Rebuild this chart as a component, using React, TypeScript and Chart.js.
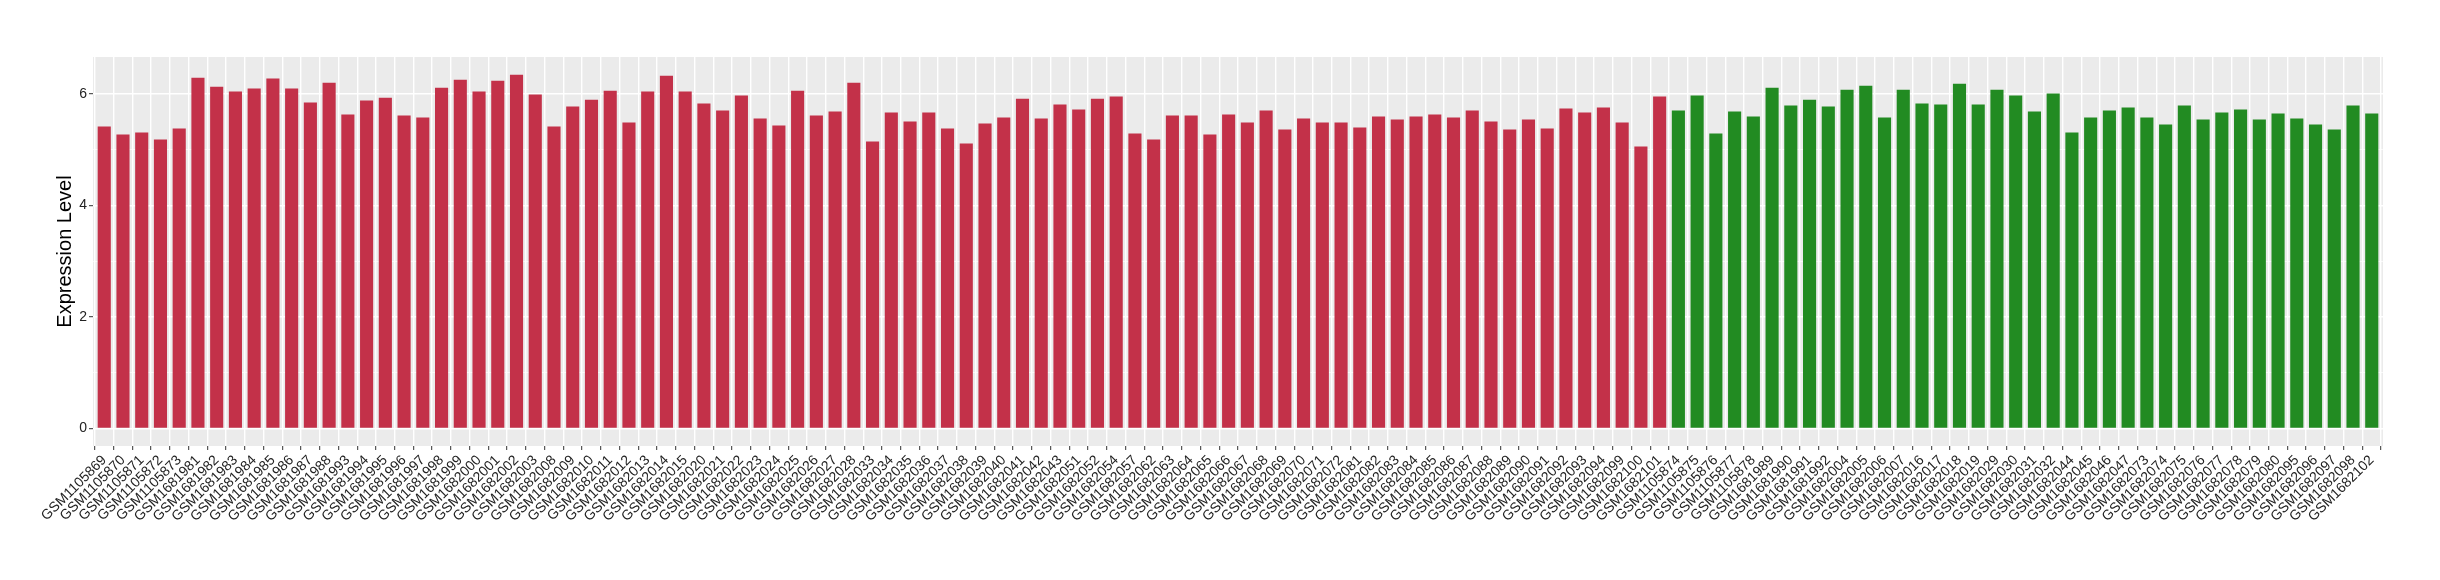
import React, { useEffect, useRef } from "react";
import { Chart, registerables } from "chart.js";
Chart.register(...registerables);

const redSamples = [
  "GSM1105869", "GSM1105870", "GSM1105871", "GSM1105872", "GSM1105873",
  "GSM1681981", "GSM1681982", "GSM1681983", "GSM1681984", "GSM1681985", "GSM1681986", "GSM1681987", "GSM1681988",
  "GSM1681993", "GSM1681994", "GSM1681995", "GSM1681996", "GSM1681997", "GSM1681998", "GSM1681999",
  "GSM1682000", "GSM1682001", "GSM1682002", "GSM1682003",
  "GSM1682008", "GSM1682009", "GSM1682010", "GSM1682011", "GSM1682012", "GSM1682013", "GSM1682014", "GSM1682015",
  "GSM1682020", "GSM1682021", "GSM1682022", "GSM1682023", "GSM1682024", "GSM1682025", "GSM1682026", "GSM1682027", "GSM1682028",
  "GSM1682033", "GSM1682034", "GSM1682035", "GSM1682036", "GSM1682037", "GSM1682038", "GSM1682039", "GSM1682040", "GSM1682041", "GSM1682042", "GSM1682043",
  "GSM1682051", "GSM1682052", "GSM1682054", "GSM1682057",
  "GSM1682062", "GSM1682063", "GSM1682064", "GSM1682065", "GSM1682066", "GSM1682067", "GSM1682068", "GSM1682069", "GSM1682070", "GSM1682071", "GSM1682072",
  "GSM1682081", "GSM1682082", "GSM1682083", "GSM1682084", "GSM1682085", "GSM1682086", "GSM1682087", "GSM1682088", "GSM1682089", "GSM1682090", "GSM1682091", "GSM1682092", "GSM1682093", "GSM1682094",
  "GSM1682099", "GSM1682100", "GSM1682101",
];

const greenSamples = [
  "GSM1105874", "GSM1105875", "GSM1105876", "GSM1105877", "GSM1105878",
  "GSM1681989", "GSM1681990", "GSM1681991", "GSM1681992",
  "GSM1682004", "GSM1682005", "GSM1682006", "GSM1682007",
  "GSM1682016", "GSM1682017", "GSM1682018", "GSM1682019",
  "GSM1682029", "GSM1682030", "GSM1682031", "GSM1682032",
  "GSM1682044", "GSM1682045", "GSM1682046", "GSM1682047",
  "GSM1682073", "GSM1682074", "GSM1682075", "GSM1682076", "GSM1682077", "GSM1682078", "GSM1682079", "GSM1682080",
  "GSM1682095", "GSM1682096", "GSM1682097", "GSM1682098", "GSM1682102",
];

const redValues = [
  5.415, 5.272, 5.307, 5.182, 5.379, 6.292, 6.131, 6.042, 6.096, 6.275,
  6.096, 5.845, 6.203, 5.630, 5.881, 5.934, 5.612, 5.576, 6.113, 6.257,
  6.042, 6.239, 6.346, 5.988, 5.415, 5.773, 5.898, 6.059, 5.486, 6.042,
  6.328, 6.042, 5.827, 5.701, 5.970, 5.558, 5.433, 6.059, 5.612, 5.683,
  6.203, 5.146, 5.665, 5.504, 5.665, 5.379, 5.110, 5.468, 5.576, 5.916,
  5.558, 5.809, 5.719, 5.916, 5.952, 5.289, 5.182, 5.612, 5.612, 5.271,
  5.630, 5.486, 5.701, 5.361, 5.558, 5.486, 5.486, 5.397, 5.594, 5.540,
  5.594, 5.630, 5.576, 5.701, 5.504, 5.361, 5.540, 5.379, 5.737, 5.665,
  5.755, 5.486, 5.056, 5.952,
];

const greenValues = [
  5.701, 5.970, 5.289, 5.683, 5.594, 6.113, 5.791, 5.898, 5.773, 6.077,
  6.149, 5.576, 6.077, 5.827, 5.809, 6.185, 5.809, 6.077, 5.970, 5.683,
  6.006, 5.307, 5.576, 5.701, 5.755, 5.576, 5.450, 5.791, 5.540, 5.665,
  5.719, 5.540, 5.647, 5.558, 5.450, 5.361, 5.791, 5.647,
];

const yMajorTicks = [0, 2, 4, 6];
const yMinorTicks = [1, 3, 5];
const yTitle = "Expression Level";

const RED = "#C33149";
const GREEN = "#228B22";
const FONT = "'Liberation Sans', Arial, Helvetica, sans-serif";

export default function App() {
  const ref = useRef<HTMLCanvasElement>(null);

  useEffect(() => {
    if (!ref.current) return;
    const samples = [...redSamples, ...greenSamples];
    const values = [...redValues, ...greenValues];
    const data = values.map((v, i) => ({ x: i, y: v }));
    const colors = samples.map((_, i) => (i < redSamples.length ? RED : GREEN));
    const yAll = [...yMajorTicks, ...yMinorTicks].sort((a, b) => a - b);

    const panelBg = {
      id: "panelBg",
      beforeDraw(chart: any) {
        const { ctx, chartArea: a } = chart;
        ctx.save();
        ctx.fillStyle = "#EBEBEB";
        ctx.fillRect(a.left, a.top, a.right - a.left, a.bottom - a.top);
        ctx.restore();
      },
    };

    const chart = new Chart(ref.current, {
      type: "bar",
      data: {
        datasets: [
          {
            data: data as any,
            backgroundColor: colors,
            borderWidth: 0,
            barPercentage: 0.7,
            categoryPercentage: 1,
          },
        ],
      },
      options: {
        animation: false,
        responsive: false,
        devicePixelRatio: 1,
        layout: { padding: { top: 57, right: 57, left: 0, bottom: 0 } },
        plugins: { legend: { display: false }, tooltip: { enabled: false } },
        scales: {
          x: {
            type: "linear",
            min: -0.6,
            max: samples.length - 0.4,
            offset: false,
            afterBuildTicks: (s: any) => {
              s.ticks = samples.map((_, i) => ({ value: i }));
            },
            afterFit: (s: any) => {
              s.height = 134;
              s.paddingLeft = 0;
              s.paddingRight = 0;
            },
            ticks: {
              autoSkip: false,
              maxRotation: 45,
              minRotation: 45,
              padding: 2,
              color: "#222",
              font: { family: FONT, size: 14 },
              callback: (v: any) => samples[v] ?? "",
            },
            grid: {
              color: "#ffffff",
              lineWidth: 1.4,
              tickColor: "#333333",
              tickLength: 4,
              tickWidth: 1,
            },
            border: { display: false },
          },
          y: {
            min: -0.317,
            max: 6.663,
            afterBuildTicks: (s: any) => {
              s.ticks = yAll.map((v) => ({ value: v }));
            },
            afterFit: (s: any) => {
              s.width = 93;
            },
            ticks: {
              padding: 2,
              color: "#222",
              font: { family: FONT, size: 14 },
              callback: (v: any) => (yMajorTicks.includes(v) ? String(v) : ""),
            },
            grid: {
              color: "#ffffff",
              lineWidth: (c: any) => (yMajorTicks.includes(c.tick?.value) ? 1.4 : 0.7),
              tickColor: (c: any) => (yMajorTicks.includes(c.tick?.value) ? "#333333" : "transparent"),
              tickLength: 4,
              tickWidth: 1,
            },
            title: {
              display: true,
              text: yTitle,
              color: "#000",
              font: { family: FONT, size: 20 },
              padding: { top: 53, bottom: 0 },
            },
            border: { display: false },
          },
        },
      } as any,
      plugins: [panelBg],
    });
    return () => chart.destroy();
  }, []);

  return (
    <div style={{ position: "fixed", left: 0, top: 0, width: 2440, height: 580, background: "#fff" }}>
      <canvas ref={ref} width={2440} height={580} style={{ display: "block", width: 2440, height: 580 }} />
    </div>
  );
}
